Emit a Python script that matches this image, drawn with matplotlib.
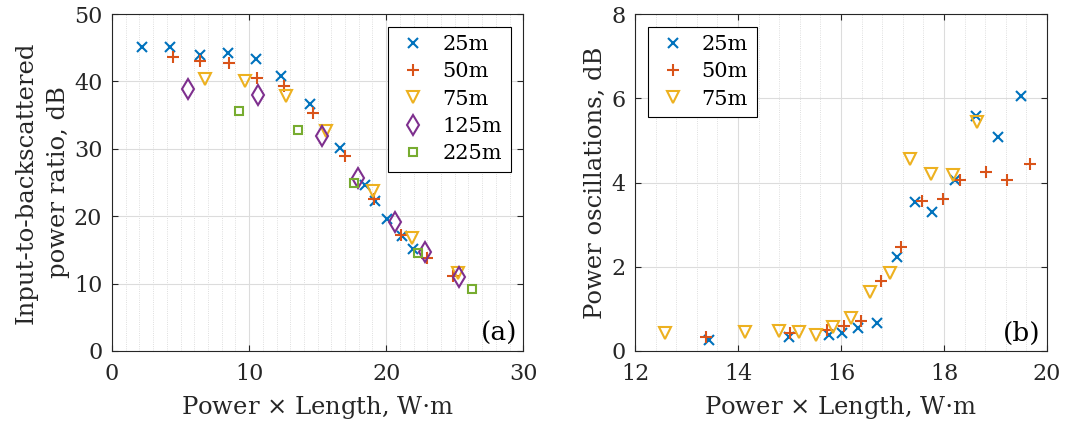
import numpy as np
import matplotlib
matplotlib.use('Agg')
import matplotlib.pyplot as plt
from matplotlib.ticker import MultipleLocator

plt.rcParams['font.family'] = ['DejaVu Serif']
plt.rcParams['mathtext.fontset'] = 'dejavuserif'

# MATLAB default colour order
c_blue = '#0072BD'
c_red = '#D95319'
c_yel = '#EDB120'
c_pur = '#7E2F8E'
c_grn = '#77AC30'

# (a) input-to-backscattered power ratio
a25_x = [2.19, 4.25, 6.39, 8.43, 10.5, 12.3, 14.45, 16.64, 18.46, 19.19, 20.04, 21.13, 21.98]
a25_y = [45.1, 45.1, 43.9, 44.2, 43.4, 40.8, 36.6, 30.1, 24.65, 22.2, 19.55, 17.0, 15.1]
a50_x = [4.44, 6.39, 8.5, 10.57, 12.56, 14.65, 17.0, 19.1, 21.1, 22.95, 24.9]
a50_y = [43.7, 43.1, 42.7, 40.5, 39.4, 35.3, 28.9, 22.6, 17.2, 13.8, 11.1]
a75_x = [6.75, 9.7, 12.68, 15.6, 19.07, 21.86, 25.26]
a75_y = [40.4, 40.0, 37.9, 32.7, 23.7, 16.8, 11.6]
a125_x = [5.54, 10.64, 15.3, 17.97, 20.65, 22.83, 25.3]
a125_y = [38.9, 38.0, 31.9, 25.7, 19.1, 14.75, 11.0]
a225_x = [9.3, 13.6, 17.68, 22.35, 26.23]
a225_y = [35.6, 32.8, 24.9, 14.5, 9.16]

# (b) power oscillations
b25_x = [13.44, 14.99, 15.77, 16.01, 16.32, 16.69, 17.08, 17.44, 17.77, 18.22, 18.62, 19.05, 19.49]
b25_y = [0.26, 0.32, 0.38, 0.42, 0.54, 0.66, 2.23, 3.53, 3.30, 4.05, 5.57, 5.08, 6.06]
b50_x = [13.38, 15.0, 15.72, 16.06, 16.39, 16.77, 17.17, 17.57, 17.97, 18.31, 18.82, 19.23, 19.67]
b50_y = [0.32, 0.42, 0.50, 0.60, 0.70, 1.66, 2.46, 3.55, 3.60, 4.06, 4.25, 4.06, 4.44]
b75_x = [12.59, 14.13, 14.8, 15.18, 15.51, 15.85, 16.19, 16.56, 16.95, 17.34, 17.75, 18.17, 18.63]
b75_y = [0.42, 0.44, 0.48, 0.44, 0.38, 0.56, 0.78, 1.39, 1.85, 4.56, 4.2, 4.19, 5.43]

fs = 16      # tick labels
fl = 17.5    # axis labels
fleg = 15
mew = 1.5
txt_c = '#262626'

fig = plt.figure(figsize=(10.68, 4.28), dpi=100)
ax1 = fig.add_axes([0.1049, 0.18, 0.385, 0.787])
ax2 = fig.add_axes([0.5946, 0.18, 0.3858, 0.787])


def style(ax):
	ax.grid(True, which='major', color='#dcdcdc', lw=0.8)
	ax.grid(True, which='minor', axis='x', color='#d4d4d4', lw=0.6, ls=':')
	ax.set_axisbelow(True)
	ax.tick_params(which='both', direction='in', top=True, right=True,
		labelsize=fs, colors=txt_c)
	ax.tick_params(axis='x', pad=9)
	ax.tick_params(axis='y', pad=7)
	ax.tick_params(which='minor', length=0)
	ax.tick_params(which='major', length=4)
	for s in ax.spines.values():
		s.set_color(txt_c)
		s.set_linewidth(0.8)


def draw(ax, x, y, kind, lab):
	if kind == 25:
		ax.plot(x, y, 'x', color=c_blue, ms=6.5, mew=mew, label=lab)
	elif kind == 50:
		ax.plot(x, y, '+', color=c_red, ms=8, mew=mew, label=lab)
	elif kind == 75:
		ax.plot(x, y, 'v', color=c_yel, mfc='none', ms=8.5, mew=mew, label=lab)
	elif kind == 125:
		ax.plot(x, y, 'd', color=c_pur, mfc='none', ms=10, mew=mew, label=lab)
	else:
		ax.plot(x, y, 's', color=c_grn, mfc='none', ms=6, mew=mew, label=lab)


def legend(ax, loc):
	leg = ax.legend(loc=loc, fontsize=fleg, fancybox=False, edgecolor='black',
		framealpha=1, borderpad=0.4, handletextpad=0.6, labelspacing=0.4,
		handlelength=1.6, borderaxespad=0.6)
	leg.get_frame().set_linewidth(0.8)


draw(ax1, a25_x, a25_y, 25, '25m')
draw(ax1, a50_x, a50_y, 50, '50m')
draw(ax1, a75_x, a75_y, 75, '75m')
draw(ax1, a125_x, a125_y, 125, '125m')
draw(ax1, a225_x, a225_y, 225, '225m')
ax1.set_xlim(0, 30)
ax1.set_ylim(0, 50)
ax1.xaxis.set_major_locator(MultipleLocator(10))
ax1.xaxis.set_minor_locator(MultipleLocator(1))
ax1.yaxis.set_major_locator(MultipleLocator(10))
style(ax1)
ax1.set_xlabel('Power $\\times$ Length, W$\\cdot$m', fontsize=fl, color=txt_c, labelpad=6)
ax1.set_ylabel('Input-to-backscattered\npower ratio, dB', fontsize=fl, color=txt_c,
	labelpad=3, linespacing=1.5)
ax1.text(0.985, 0.015, '(a)', transform=ax1.transAxes, ha='right', va='bottom', fontsize=19, color='black')
legend(ax1, 'upper right')

draw(ax2, b25_x, b25_y, 25, '25m')
draw(ax2, b50_x, b50_y, 50, '50m')
draw(ax2, b75_x, b75_y, 75, '75m')
ax2.set_xlim(12, 20)
ax2.set_ylim(0, 8)
ax2.xaxis.set_major_locator(MultipleLocator(2))
ax2.xaxis.set_minor_locator(MultipleLocator(0.4))
ax2.yaxis.set_major_locator(MultipleLocator(2))
style(ax2)
ax2.set_xlabel('Power $\\times$ Length, W$\\cdot$m', fontsize=fl, color=txt_c, labelpad=6)
ax2.set_ylabel('Power oscillations, dB', fontsize=fl, color=txt_c, labelpad=3)
ax2.text(0.985, 0.015, '(b)', transform=ax2.transAxes, ha='right', va='bottom', fontsize=19, color='black')
legend(ax2, 'upper left')

fig.savefig('out.png', dpi=100)
